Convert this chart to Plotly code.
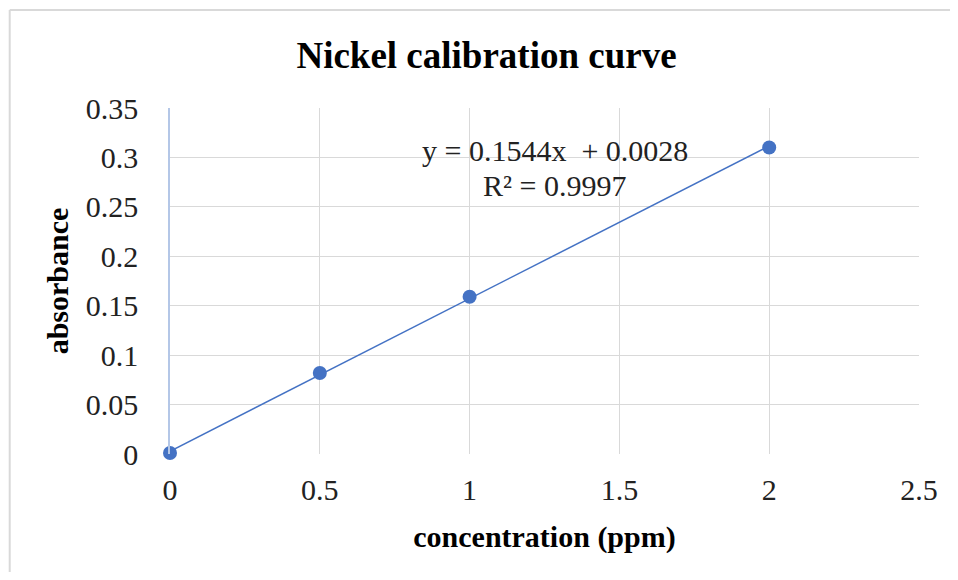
import plotly.graph_objects as go

# Data
conc = [0, 0.5, 1, 2]
absorb = [0.001, 0.082, 0.159, 0.310]
slope = 0.1544
intercept = 0.0028
eq_text = "y = 0.1544x \u00a0+ 0.0028"
r2_text = "R² = 0.9997"
x_ticks = [0, 0.5, 1, 1.5, 2, 2.5]
y_ticks = [0, 0.05, 0.1, 0.15, 0.2, 0.25, 0.3, 0.35]
y_tick_labels = ["0", "0.05", "0.1", "0.15", "0.2", "0.25", "0.3", "0.35"]

blue = "#4472C4"
grid = "#D9D9D9"
font_family = "Liberation Serif, Times New Roman, serif"

trend_x = [min(conc), max(conc)]
trend_y = [slope * x + intercept for x in trend_x]

fig = go.Figure()
fig.add_trace(go.Scatter(x=trend_x, y=trend_y, mode="lines",
                         line=dict(color=blue, width=1.5), showlegend=False,
                         hoverinfo="skip", cliponaxis=False))
fig.add_trace(go.Scatter(x=conc, y=absorb, mode="markers",
                         marker=dict(color=blue, size=14), showlegend=False,
                         cliponaxis=False))

fig.add_annotation(x=1.285, y=0.3075, xref="x", yref="y", text=eq_text,
                   showarrow=False, font=dict(family=font_family, size=30, color="#222"))
fig.add_annotation(x=1.285, y=0.272, xref="x", yref="y", text=r2_text,
                   showarrow=False, font=dict(family=font_family, size=30, color="#222"))

# outer chart border (only left and top edges are visible in the frame)
border = dict(color="#D9D9D9", width=2)
fig.add_shape(type="line", xref="paper", yref="paper",
              x0=-0.214, x1=-0.214, y0=-0.6, y1=1.283, line=border, layer="below")
fig.add_shape(type="line", xref="paper", yref="paper",
              x0=-0.214, x1=1.3, y0=1.283, y1=1.283, line=border, layer="below")

fig.update_layout(
    width=942, height=564,
    margin=dict(l=162, r=31, t=100, b=118),
    paper_bgcolor="white", plot_bgcolor="white",
    font=dict(family=font_family, color="#222"),
    title=dict(text="<b>Nickel calibration curve</b>", x=0.508, xanchor="center",
               y=0.9167, yanchor="middle",
               font=dict(family=font_family, size=37, color="black")),
)
fig.update_xaxes(
    range=[0, 2.5], tickvals=x_ticks, ticktext=[str(v) for v in x_ticks],
    showgrid=True, gridcolor=grid, gridwidth=1,
    zeroline=False, showline=False,
    ticks="outside", ticklen=9, tickcolor="rgba(0,0,0,0)",
    tickfont=dict(family=font_family, size=30, color="#222"),
    title=dict(text="<b>concentration (ppm)</b>", standoff=20,
               font=dict(family=font_family, size=30, color="black")),
)
fig.update_yaxes(
    range=[0, 0.35], tickvals=y_ticks, ticktext=y_tick_labels,
    showgrid=True, gridcolor=grid, gridwidth=1,
    zeroline=False, showline=True, linecolor="#B4C7E7", linewidth=1.5,
    ticks="outside", ticklen=24, tickcolor="rgba(0,0,0,0)",
    tickfont=dict(family=font_family, size=30, color="#222"),
    title=dict(text="<b>absorbance</b>", standoff=8,
               font=dict(family=font_family, size=30, color="black")),
)

fig.write_html("out.html")
